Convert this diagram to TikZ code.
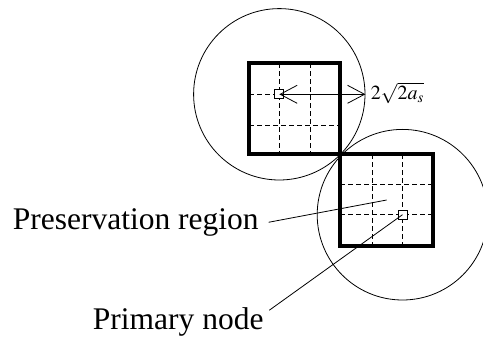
\documentclass[tikz,border=0pt]{standalone}
\usepackage{mathptmx}
\usepackage{fontspec}
\setmainfont{Liberation Serif}
\usetikzlibrary{arrows.meta}
\begin{document}
\begin{tikzpicture}[x=1pt,y=-1pt,
  sqbox/.style={line width=4pt},
  gridline/.style={line width=0.9pt, dash pattern=on 5pt off 3pt},
  pnode/.style={draw, fill=white, line width=0.8pt, minimum size=9pt, inner sep=0pt},
  rangecirc/.style={draw, circle, line width=0.8pt, inner sep=0pt},
  dimarrow/.style={line width=0.8pt, {Straight Barb[length=17pt,width=18pt,line width=0.8pt]}-{Straight Barb[length=17pt,width=18pt,line width=0.8pt]}},
  leader/.style={line width=0.8pt},
  lab/.style={inner sep=0pt, font=\fontsize{31.5}{36}\selectfont}
]
\useasboundingbox (0,0) rectangle (483,337);
% top region
\draw[gridline] (279.3,63.3) -- (279.3,154.5);
\draw[gridline] (310,63.3) -- (310,154.5);
\draw[gridline] (249.3,94.3) -- (340,94.3);
\draw[gridline] (249.3,125) -- (340,125);
\draw[sqbox] (249.3,63.3) rectangle (340,154.5);
% bottom region
\draw[gridline] (372,154.5) -- (372,245.7);
\draw[gridline] (402.5,154.5) -- (402.5,245.7);
\draw[gridline] (340,184.3) -- (433.3,184.3);
\draw[gridline] (340,214.7) -- (433.3,214.7);
\draw[sqbox] (340,154.5) rectangle (433.3,245.7);
% nodes and circles
\node[pnode] (tn) at (279.3,94.3) {};
\node[rangecirc, minimum size=171.4pt] (tc) at (tn) {};
\node[pnode] (bn) at (402.5,214.7) {};
\node[rangecirc, minimum size=170.6pt] (bc) at (bn) {};
% dimension
\draw[dimarrow] (tn.center) -- (tc.east);
\node[anchor=base west, inner sep=0pt, font=\fontsize{20}{24}\selectfont] (dl) at (370.7,99.3) {$2\sqrt{2a_s}$};
% labels
\node[lab, anchor=base west] (pres) at (12.7,229.3) {Preservation region};
\coordinate (presPt) at (386.7,200);
\draw[leader] ([xshift=9.7pt]pres.east) -- (presPt);
\node[lab, anchor=base west] (prim) at (92.7,329.3) {Primary node};
\draw[leader] ([xshift=5.6pt,yshift=-3pt]prim.north east) -- (bn.center);
\end{tikzpicture}
\end{document}
